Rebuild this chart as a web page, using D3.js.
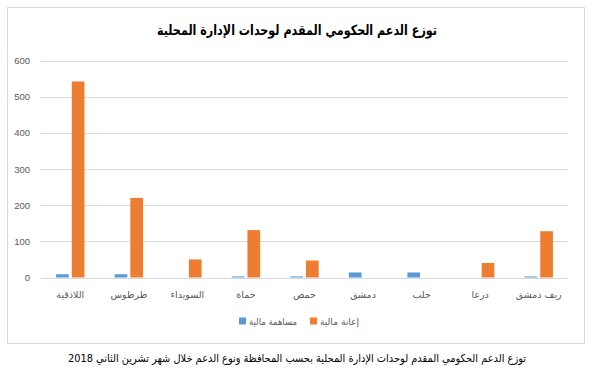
<!DOCTYPE html>
<html><head><meta charset="utf-8">
<script src="https://cdn.jsdelivr.net/npm/d3@7"></script>
<style>body{margin:0;background:#fff}svg{display:block}</style>
</head><body>
<svg id="c" width="592" height="372"></svg>
<script>
const categories = ["اللاذقية","طرطوس","السويداء","حماة","حمص","دمشق","حلب","درعا","ريف دمشق"];
const seriesNames = ["مساهمة مالية","إعانة مالية"];
const contribution = [9, 9, 0, 3, 3, 14, 14, 0, 3];
const subsidy = [542, 220, 50, 131, 47, 0, 0, 40, 128];
const yTicks = [0,100,200,300,400,500,600];
const title = "توزع الدعم الحكومي المقدم لوحدات الإدارة المحلية";
const caption = "توزع الدعم الحكومي المقدم لوحدات الإدارة المحلية بحسب المحافظة ونوع الدعم خلال شهر تشرين الثاني 2018";
const colors = ["#5b9bd5","#ed7d31"];

const svg = d3.select("#c");
const font = "'DejaVu Sans', sans-serif";
svg.append("rect").attr("x",7.5).attr("y",7.5).attr("width",577).attr("height",336)
  .attr("fill","#fff").attr("stroke","#d9d9d9");

const x = d3.scaleBand().domain(categories).range([41,568]);
const y = d3.scaleLinear().domain([0,600]).range([277.5,60.5]);

svg.append("g").selectAll("line").data(yTicks).join("line")
  .attr("x1",41).attr("x2",568).attr("y1",d=>Math.round(y(d))+0.5).attr("y2",d=>Math.round(y(d))+0.5)
  .attr("stroke","#d9d9d9").attr("stroke-width",1);

svg.append("g").selectAll("text").data(yTicks).join("text")
  .attr("x",30).attr("y",d=>y(d)+3.5).attr("text-anchor","end")
  .attr("font-family","'Liberation Sans', Arial, sans-serif").attr("font-size",9.5).attr("fill","#595959")
  .text(d=>d);

const bw = 12.7, gap = 3;
const data = categories.map((c,i)=>({c, vals:[contribution[i], subsidy[i]]}));
const g = svg.append("g");
data.forEach(d=>{
  const cx = x(d.c) + x.bandwidth()/2;
  d.vals.forEach((v,j)=>{
    if(v<=0) return;
    const x0 = j===0 ? cx - gap/2 - bw : cx + gap/2;
    g.append("rect").attr("x",x0).attr("width",bw)
      .attr("y",y(v)).attr("height",y(0)-y(v)).attr("fill",colors[j]);
  });
});

svg.append("g").selectAll("text").data(categories).join("text")
  .attr("x",d=>x(d)+x.bandwidth()/2).attr("y",298).attr("text-anchor","middle")
  .attr("font-family",font).attr("font-size",9.5).attr("fill","#595959")
  .text(d=>d);

// title
svg.append("text").attr("x",157).attr("y",35)
  .attr("font-family",font).attr("font-size",14).attr("font-weight","bold").attr("fill","#000")
  .attr("textLength",280).attr("lengthAdjust","spacingAndGlyphs")
  .text(title);

// legend
const leg = [{n:seriesNames[0],c:colors[0],sx:239,w:48},{n:seriesNames[1],c:colors[1],sx:310,w:39}];
leg.forEach(l=>{
  svg.append("rect").attr("x",l.sx).attr("y",317.5).attr("width",7).attr("height",7).attr("fill",l.c);
  svg.append("text").attr("x",l.sx+10).attr("y",325)
    .attr("font-family",font).attr("font-size",9.5).attr("fill","#595959")
    .attr("textLength",l.w).attr("lengthAdjust","spacingAndGlyphs").text(l.n);
});

svg.append("text").attr("x",68).attr("y",362)
  .attr("font-family",font).attr("font-size",11).attr("fill","#000")
  .attr("textLength",458).attr("lengthAdjust","spacingAndGlyphs")
  .text(caption);
</script>
</body></html>
